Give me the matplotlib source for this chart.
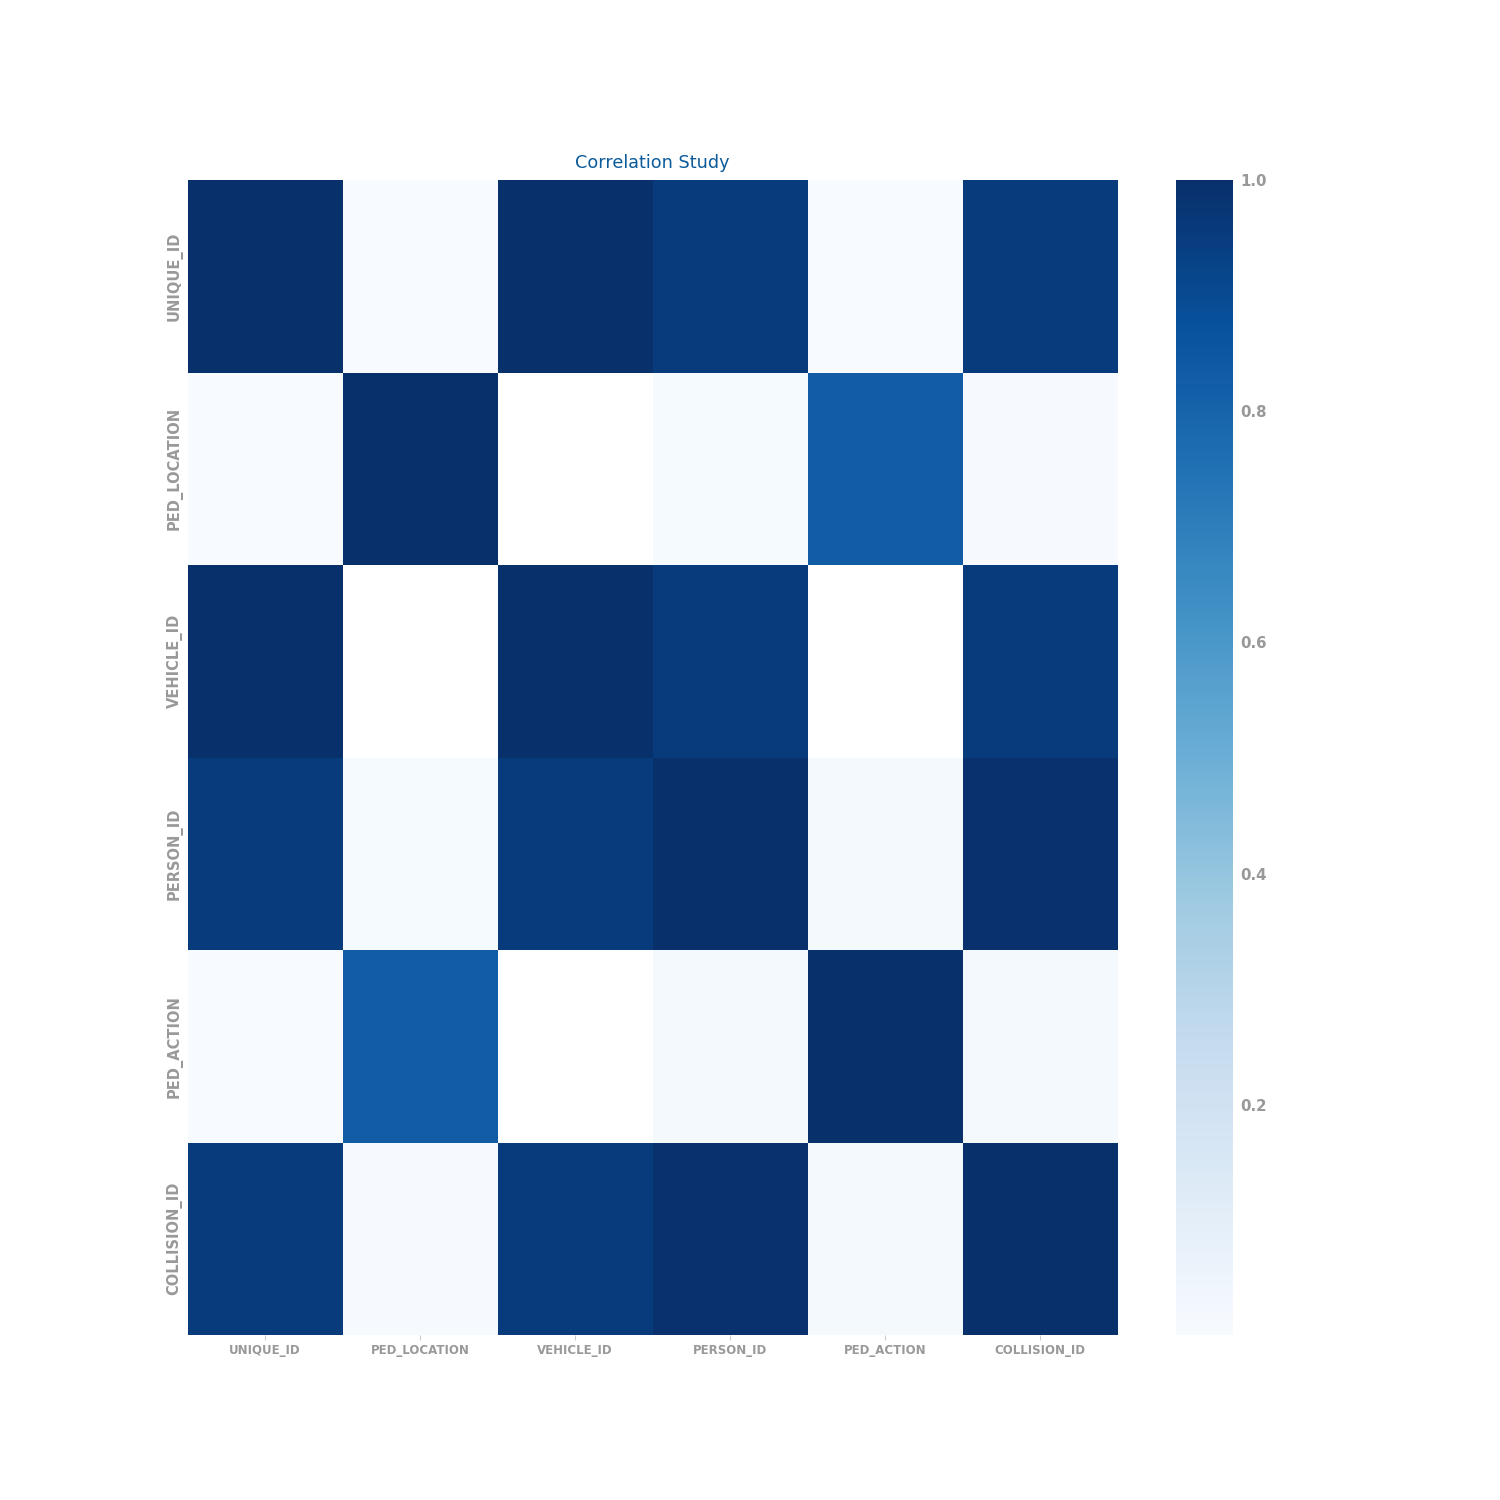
import numpy as np
import pandas as pd
import matplotlib
matplotlib.use('Agg')
import matplotlib.pyplot as plt
import seaborn as sns

columns = ['UNIQUE_ID', 'PED_LOCATION', 'VEHICLE_ID', 'PERSON_ID', 'PED_ACTION', 'COLLISION_ID']

# correlation values (NaN = blank cell)
nan = np.nan
unique_id    = [1.000, 0.004, 0.999, 0.955, 0.004, 0.955]
ped_location = [0.004, 1.000, nan,   0.010, 0.830, 0.006]
vehicle_id   = [0.999, nan,   1.000, 0.955, nan,   0.955]
person_id    = [0.955, 0.010, 0.955, 1.000, 0.018, 0.995]
ped_action   = [0.004, 0.830, nan,   0.018, 1.000, 0.020]
collision_id = [0.955, 0.006, 0.955, 0.995, 0.020, 1.000]

corr = pd.DataFrame([unique_id, ped_location, vehicle_id, person_id, ped_action, collision_id],
                    index=columns, columns=columns)

fig = plt.figure(figsize=(15, 15), dpi=100)
ax = fig.add_subplot(111)

sns.heatmap(corr, cmap='Blues', vmin=0.001, vmax=1.0, ax=ax)

ax.set_title('Correlation Study', color='#0b5a9a', fontsize=12.7, pad=9)
ax.tick_params(axis='both', colors='#cccccc', labelcolor='#999999')
ax.tick_params(axis='x', pad=3)
ax.tick_params(axis='y', length=0, pad=3.5)
plt.setp(ax.get_xticklabels(), fontweight='bold', fontsize=8.5, rotation=0)
plt.setp(ax.get_yticklabels(), fontweight='bold', fontsize=10.5, rotation=90, va='center')

cbar = ax.collections[0].colorbar
cbar.outline.set_visible(False)
cbar.set_ticks([0.2, 0.4, 0.6, 0.8, 1.0])
cbar.ax.tick_params(colors='#cccccc', labelcolor='#999999', labelsize=10.8, length=0, pad=5)
plt.setp(cbar.ax.get_yticklabels(), fontweight='bold')

fig.savefig('out.png', dpi=100)
